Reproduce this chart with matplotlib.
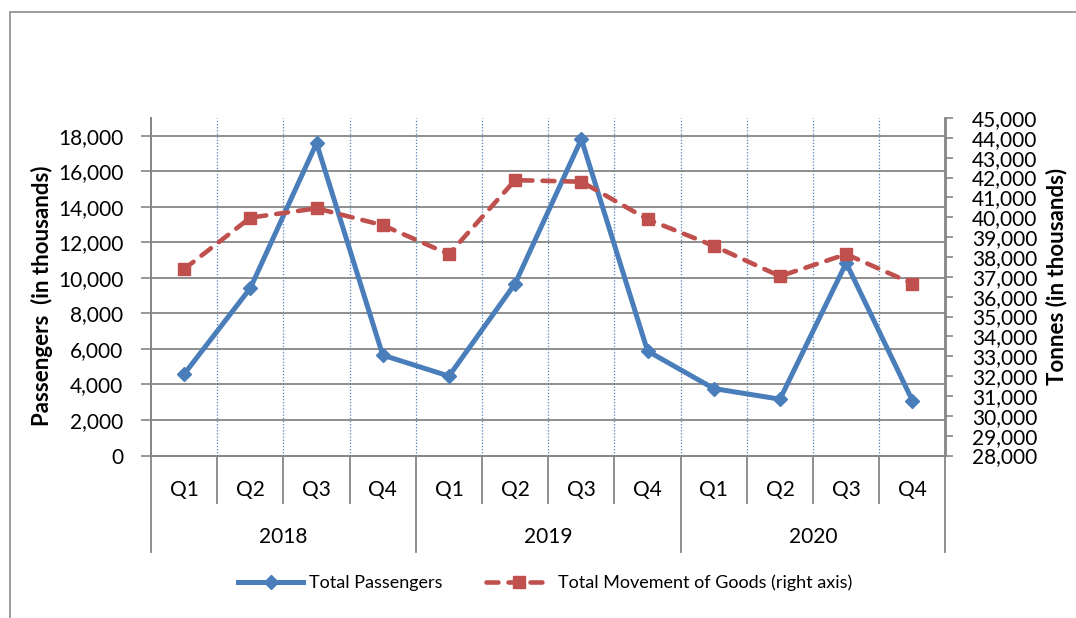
import matplotlib
matplotlib.use('Agg')
import matplotlib.pyplot as plt
from matplotlib.ticker import FuncFormatter
from matplotlib.patches import Rectangle
import matplotlib.transforms as mtransforms

# ---- data ----
quarters = ['Q1', 'Q2', 'Q3', 'Q4'] * 3
years = ['2018', '2019', '2020']
passengers = [4580, 9420, 17580, 5650, 4470, 9680, 17810, 5880, 3770, 3170, 10840, 3090]
goods = [37390, 39980, 40450, 39600, 38140, 41870, 41790, 39900, 38560, 37030, 38140, 36660]
left_ticks = list(range(0, 18001, 2000))
right_ticks = list(range(28000, 45001, 1000))

plt.rcParams['font.family'] = ['Lato', 'DejaVu Sans']

BLUE = '#4A7EBB'
RED = '#C0504D'
GRAY = '#868686'

W, H = 1076, 618
fig = plt.figure(figsize=(W / 100, H / 100), dpi=100)
x0, x1, y0, y1 = 151, 945.5, 118, 455.5
ax = fig.add_axes([x0 / W, 1 - y1 / H, (x1 - x0) / W, (y1 - y0) / H])
ax2 = ax.twinx()

# outer chart border
fig.add_artist(Rectangle((9.5 / W, -0.2), 1.5, 1.2 - 12 / H, transform=fig.transFigure,
                         fill=False, edgecolor='#8c8c8c', lw=1.2))

n = len(quarters)
xs = list(range(n))

ax.set_xlim(-0.5, n - 0.5)
ax.set_ylim(0, 19000)
ax.set_yticks(left_ticks)
ax2.set_ylim(28000, 45000)
ax2.set_yticks(right_ticks)

fmt = FuncFormatter(lambda v, p: f'{int(v):,}')
ax.yaxis.set_major_formatter(fmt)
ax2.yaxis.set_major_formatter(fmt)

# grid
ax.yaxis.grid(True, color=GRAY, lw=1.3)
ax.set_axisbelow(True)
ax.vlines([i + 0.5 for i in range(n - 1)], 0, 1, transform=ax.get_xaxis_transform(),
          colors='#4F81BD', linestyles=(0, (1, 1.5)), lw=0.9, zorder=0.5)

for a in (ax, ax2):
    a.spines['top'].set_visible(False)
    for s in ('left', 'right', 'bottom'):
        a.spines[s].set_color(GRAY)
        a.spines[s].set_linewidth(1.3)

ax.tick_params(axis='y', direction='out', length=7, width=1.2, color=GRAY, pad=13, labelsize=15)
ax2.tick_params(axis='y', direction='out', length=6, width=1.2, color=GRAY, pad=13, labelsize=15)
ax.tick_params(axis='x', length=0, labelbottom=False)
ax2.tick_params(axis='x', length=0)

# series
ax.plot(xs, passengers, color=BLUE, lw=3.6, marker='D', ms=7.5, mfc=BLUE, mec=BLUE,
        label='Total Passengers', zorder=3)
ax2.plot(xs, goods, color=RED, lw=3.3, ls=(0, (2.6, 2.2)), dash_capstyle='round',
         marker='s', ms=9, mfc=RED, mec=RED, label='Total Movement of Goods (right axis)', zorder=3)

# multi-level category axis
trans = mtransforms.blended_transform_factory(ax.transData, ax.transAxes)
for i, q in enumerate(quarters):
    ax.text(i, -0.102, q, transform=trans, ha='center', va='center', fontsize=15)
for j, y in enumerate(years):
    ax.text(j * 4 + 1.5, -0.242, y, transform=trans, ha='center', va='center', fontsize=15)
for b in range(n + 1):
    xb = b - 0.5
    low = -0.286 if b % 4 == 0 else -0.141
    ax.plot([xb, xb], [0, low], transform=trans, color=GRAY, lw=1.3, clip_on=False, zorder=1)

# axis titles
fig.text(42 / W, 1 - 296 / H, 'Passengers  (in thousands)', rotation=90, ha='center', va='center',
         fontsize=16, fontweight='bold')
fig.text(1057 / W, 1 - 276 / H, 'Tonnes (in thousands)', rotation=90, ha='center', va='center',
         fontsize=16, fontweight='bold')

# legend
h1, l1 = ax.get_legend_handles_labels()
h2, l2 = ax2.get_legend_handles_labels()
fig.legend(h1 + h2, l1 + l2, loc='center', bbox_to_anchor=(545 / W, 1 - 583 / H), ncol=2,
           frameon=False, fontsize=13, handlelength=3.6, handletextpad=0.35, columnspacing=2.4)

fig.savefig('out.png', dpi=100)
